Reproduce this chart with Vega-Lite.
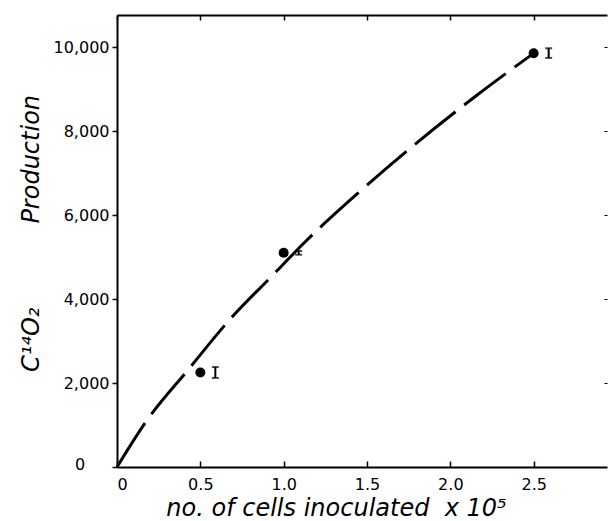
{
  "$schema": "https://vega.github.io/schema/vega-lite/v6.json",
  "autosize": {"type": "none"},
  "padding": {"left": 117, "top": 15, "right": 1, "bottom": 54},
  "width": 490,
  "height": 452,
  "background": "white",
  "config": {
    "view": {"stroke": null},
    "axis": {
      "labelFont": "DejaVu Sans",
      "labelFontSize": 16,
      "labelColor": "black",
      "titleFont": "DejaVu Sans",
      "titleFontSize": 24,
      "titleFontStyle": "italic",
      "titleFontWeight": "normal",
      "titleColor": "black",
      "domainColor": "black",
      "tickColor": "black",
      "grid": false
    }
  },
  "datasets": {
    "curve": [
      {"x": 0, "y": 0},
      {"x": 0.174, "y": 1080},
      {"x": 0.43, "y": 2330},
      {"x": 0.678, "y": 3517},
      {"x": 0.918, "y": 4500},
      {"x": 1.128, "y": 5357},
      {"x": 1.447, "y": 6524},
      {"x": 1.747, "y": 7548},
      {"x": 2.161, "y": 8857},
      {"x": 2.5, "y": 9850}
    ],
    "pts": [
      {"x": 0.5, "y": 2250, "lo": 2120, "hi": 2380},
      {"x": 1.0, "y": 5100, "lo": 5055, "hi": 5145},
      {"x": 2.5, "y": 9850, "lo": 9740, "hi": 9970}
    ],
    "origin": [{"x": 0, "y": 0, "t": "0"}]
  },
  "resolve": {"axis": {"x": "independent", "y": "independent"}},
  "layer": [
    {
      "data": {"name": "curve"},
      "mark": {"type": "line", "interpolate": "monotone", "color": "black", "strokeWidth": 3, "strokeDash": [52, 11], "strokeCap": "butt"},
      "encoding": {
        "x": {"field": "x", "type": "quantitative", "scale": {"domain": [0, 2.94], "nice": false},
          "axis": {"orient": "bottom", "title": "no. of cells inoculated\u00a0\u00a0x 10⁵", "values": [0, 0.5, 1, 1.5, 2, 2.5],
            "labelExpr": "datum.value == 0 ? '0' : format(datum.value, '.1f')",
            "domainWidth": 2, "tickSize": -6, "tickWidth": 1.5, "labelPadding": 15, "titlePadding": 4, "titleX": 219, "titleAlign": "center"}},
        "y": {"field": "y", "type": "quantitative", "scale": {"domain": [0, 10762], "nice": false},
          "axis": {"orient": "left", "title": "C¹⁴O₂\u00a0\u00a0\u00a0\u00a0\u00a0\u00a0\u00a0\u00a0\u00a0\u00a0\u00a0Production", "values": [0, 2000, 4000, 6000, 8000, 10000],
            "labelExpr": "datum.value == 0 ? '' : format(datum.value, ',')",
            "domainWidth": 2, "tickSize": 5, "tickWidth": 1.5, "labelPadding": 3, "titlePadding": 10, "titleY": 218}}
      }
    },
    {
      "data": {"name": "pts"},
      "mark": {"type": "circle", "color": "black", "opacity": 1, "size": 100},
      "encoding": {
        "x": {"field": "x", "type": "quantitative", "scale": {"domain": [0, 2.94], "nice": false},
          "axis": {"orient": "top", "title": null, "labels": false, "values": [0, 0.5, 1, 1.5, 2, 2.5], "domainWidth": 2, "tickSize": -5, "tickWidth": 1.5}},
        "y": {"field": "y", "type": "quantitative", "scale": {"domain": [0, 10762], "nice": false},
          "axis": {"orient": "right", "title": null, "labels": false, "domain": false, "values": [2000, 4000, 6000, 8000, 10000], "tickSize": -3, "tickWidth": 1}}
      }
    },
    {
      "data": {"name": "pts"},
      "mark": {"type": "rule", "color": "black", "strokeWidth": 2, "xOffset": 15},
      "encoding": {
        "x": {"field": "x", "type": "quantitative", "scale": {"domain": [0, 2.94], "nice": false}, "axis": null},
        "y": {"field": "lo", "type": "quantitative", "scale": {"domain": [0, 10762], "nice": false}, "axis": null},
        "y2": {"field": "hi"}
      }
    },
    {
      "data": {"name": "pts"},
      "mark": {"type": "tick", "orient": "horizontal", "color": "black", "size": 7, "thickness": 2, "xOffset": 15},
      "encoding": {
        "x": {"field": "x", "type": "quantitative", "scale": {"domain": [0, 2.94], "nice": false}, "axis": null},
        "y": {"field": "lo", "type": "quantitative", "scale": {"domain": [0, 10762], "nice": false}, "axis": null}
      }
    },
    {
      "data": {"name": "pts"},
      "mark": {"type": "tick", "orient": "horizontal", "color": "black", "size": 7, "thickness": 2, "xOffset": 15},
      "encoding": {
        "x": {"field": "x", "type": "quantitative", "scale": {"domain": [0, 2.94], "nice": false}, "axis": null},
        "y": {"field": "hi", "type": "quantitative", "scale": {"domain": [0, 10762], "nice": false}, "axis": null}
      }
    },
    {
      "data": {"name": "origin"},
      "mark": {"type": "text", "font": "DejaVu Sans", "fontSize": 16, "color": "black", "dx": -37, "dy": -2, "align": "center", "baseline": "middle"},
      "encoding": {
        "x": {"field": "x", "type": "quantitative", "scale": {"domain": [0, 2.94], "nice": false}, "axis": null},
        "y": {"field": "y", "type": "quantitative", "scale": {"domain": [0, 10762], "nice": false}, "axis": null},
        "text": {"field": "t"}
      }
    }
  ]
}
